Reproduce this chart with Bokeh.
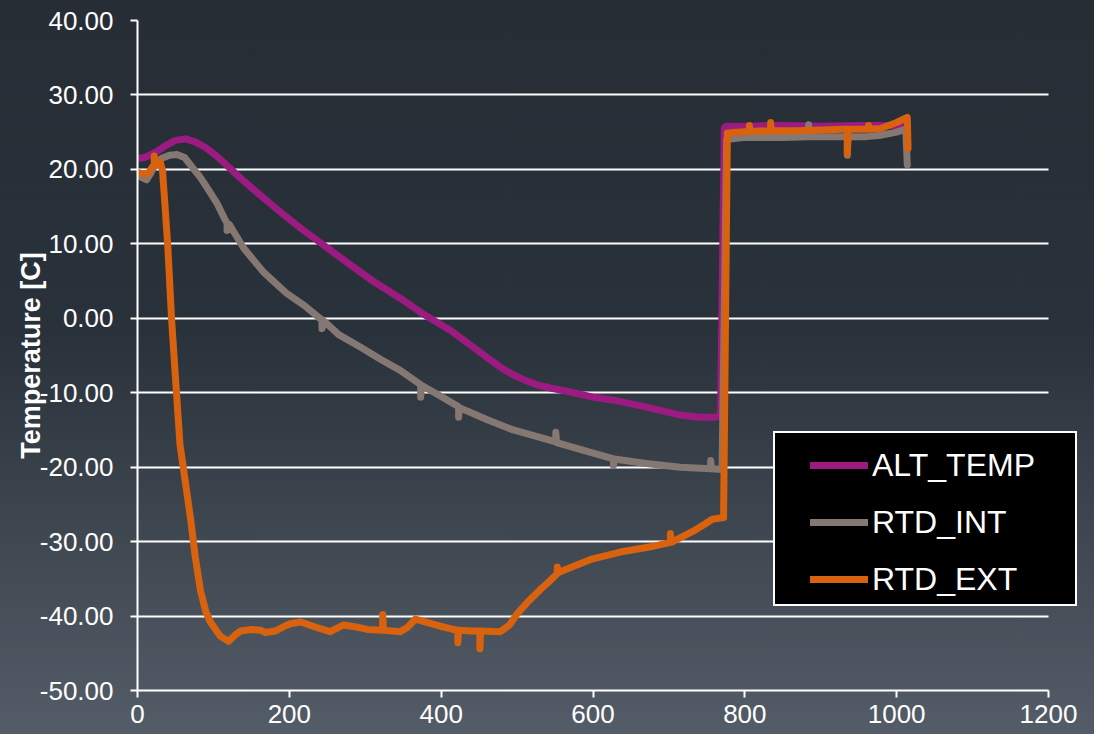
from bokeh.plotting import figure
from bokeh.models import (Range1d, FixedTicker, PrintfTickFormatter, Legend,
                          LegendItem)
from bokeh.embed import file_html
from bokeh.resources import INLINE

# ---------------- data ----------------
x_ticks = [0, 200, 400, 600, 800, 1000, 1200]
y_ticks = [-50, -40, -30, -20, -10, 0, 10, 20, 30, 40]
y_label = "Temperature [C]"
series_names = ["ALT_TEMP", "RTD_INT", "RTD_EXT"]
series_colors = ["#9B1B80", "#857771", "#D8620D"]

alt_x = [0, 10, 24, 37, 50, 63, 76, 90, 103, 116, 136, 162, 188, 215, 248,
         280, 313, 346, 379, 412, 445, 465, 480, 495, 510, 525, 545, 566,
         600, 627, 660, 690, 715, 740, 760, 768, 773, 776, 800, 850, 900,
         950, 1000, 1012]
alt_y = [21.5, 21.6, 22.3, 23.2, 23.9, 24.1, 23.7, 22.9, 21.9, 20.7, 18.8,
         16.5, 14.3, 12.1, 9.6, 7.2, 4.8, 2.7, 0.4, -1.6, -4.1, -5.6, -6.7,
         -7.6, -8.3, -8.9, -9.4, -9.8, -10.6, -11.0, -11.7, -12.4, -13.0,
         -13.3, -13.3, -13.1, 25.6, 25.8, 25.8, 25.9, 25.8, 25.9, 25.9, 26.0]

int_x = [0, 6, 12, 18, 24, 32, 42, 52, 62, 72, 83, 95, 105, 115, 118, 118,
         121, 140, 166, 197, 220, 240, 243, 243, 246, 265, 294, 320, 346,
         373, 373, 374, 400, 423, 423, 424, 460, 495, 530, 551, 551, 552,
         590, 627, 627, 628, 670, 715, 755, 755, 756, 770, 776, 800, 850,
         884, 884, 885, 935, 935, 936, 960, 980, 1000, 1012, 1014]
int_y = [19.2, 18.9, 18.6, 19.6, 20.8, 21.5, 21.9, 22.0, 21.6, 20.3, 18.9,
         17.0, 15.4, 13.3, 12.8, 11.8, 12.6, 9.4, 6.2, 3.3, 1.7, 0.0, -0.2,
         -1.4, -0.4, -2.2, -3.9, -5.5, -7.0, -8.9, -10.6, -9.0, -10.5,
         -11.9, -13.3, -12.0, -13.6, -15.0, -16.0, -16.6, -15.3, -16.7,
         -17.8, -18.9, -19.8, -18.9, -19.5, -20.0, -20.2, -19.1, -20.2,
         -20.3, 24.0, 24.3, 24.3, 24.4, 26.0, 24.4, 24.4, 21.9, 24.4, 24.4,
         24.6, 25.0, 25.4, 20.6]

ext_x = [0, 10, 15, 20, 22, 22, 24, 30, 33, 36, 40, 45, 50, 56, 63, 70, 76,
         83, 90, 96, 109, 120, 128, 136, 150, 162, 168, 182, 195, 202, 215,
         235, 254, 271, 290, 303, 323, 323, 324, 346, 356, 366, 380, 400,
         412, 422, 422, 423, 440, 451, 451, 452, 478, 490, 500, 515, 531,
         544, 553, 553, 554, 565, 577, 597, 636, 676, 702, 702, 703, 732,
         748, 757, 770, 772, 777, 790, 806, 806, 807, 830, 834, 834, 835,
         870, 900, 930, 935, 935, 936, 963, 963, 964, 979, 1000, 1014, 1015]
ext_y = [19.6, 19.3, 19.6, 20.4, 20.6, 21.8, 20.6, 21.0, 19.8, 15.5, 9.5,
         -0.3, -8.0, -17.0, -22.0, -27.0, -32.0, -36.6, -39.4, -40.8, -42.7,
         -43.4, -42.6, -42.0, -41.8, -41.9, -42.2, -42.0, -41.3, -41.0,
         -40.8, -41.5, -42.1, -41.2, -41.5, -41.8, -41.9, -39.8, -41.9,
         -42.1, -41.5, -40.4, -40.8, -41.4, -41.7, -41.9, -43.6, -41.9,
         -42.0, -42.0, -44.4, -42.0, -42.1, -41.2, -39.7, -38.0, -36.4,
         -35.2, -34.3, -33.4, -34.2, -33.7, -33.2, -32.4, -31.4, -30.7,
         -30.1, -28.9, -30.1, -28.6, -27.6, -27.0, -26.8, -26.8, 24.9, 25.0,
         25.1, 25.9, 25.1, 25.2, 25.2, 26.3, 25.2, 25.2, 25.3, 25.4, 25.4,
         22.1, 25.4, 25.4, 25.9, 25.4, 25.5, 26.3, 27.0, 22.8]

FONT = "Liberation Sans"

# layout (pixels)
W, H = 1094, 734
LEFT, AXIS_RIGHT, TOP, BOTTOM = 137, 1048, 20, 44
# the frame runs to the canvas edge so the legend panel is not clipped;
# the x axis and grid are bounded to the data axis extent
x_end = x_ticks[-1] * (W - LEFT) / (AXIS_RIGHT - LEFT)

p = figure(width=W, height=H, output_backend="svg", toolbar_location=None,
           x_range=Range1d(0, x_end), y_range=Range1d(y_ticks[0], y_ticks[-1]),
           min_border_left=LEFT, min_border_right=0, min_border_top=TOP,
           min_border_bottom=BOTTOM,
           background_fill_color=None, border_fill_color=None,
           outline_line_color=None,
           styles={"background": "linear-gradient(to bottom, #262d35 0%, #29313a 45%, #545d67 100%)"})

p.xaxis.ticker = FixedTicker(ticks=x_ticks)
p.xaxis.bounds = (x_ticks[0], x_ticks[-1])
p.yaxis.ticker = FixedTicker(ticks=y_ticks)
p.yaxis.formatter = PrintfTickFormatter(format="%.2f")
for ax in p.axis:
    ax.axis_line_color = "white"
    ax.axis_line_width = 2
    ax.major_tick_line_color = "white"
    ax.major_tick_line_width = 2
    ax.major_tick_out = 7
    ax.major_tick_in = 0
    ax.minor_tick_line_color = None
    ax.major_label_text_color = "white"
    ax.major_label_text_font = FONT
    ax.major_label_text_font_size = "26px"
p.yaxis.major_label_standoff = 17
p.xaxis.major_label_standoff = 7
p.yaxis.axis_label = y_label
p.yaxis.axis_label_text_font = FONT
p.yaxis.axis_label_text_font_style = "bold"
p.yaxis.axis_label_text_font_size = "27px"
p.yaxis.axis_label_text_color = "white"
p.yaxis.axis_label_standoff = -9

p.xgrid.visible = False
p.ygrid.grid_line_color = "white"
p.ygrid.grid_line_width = 2
p.ygrid.cross_bounds = (x_ticks[0], x_ticks[-1])

renderers = []
for xs, ys, c in [(alt_x, alt_y, series_colors[0]),
                  (int_x, int_y, series_colors[1]),
                  (ext_x, ext_y, series_colors[2])]:
    r = p.line(xs, ys, line_color=c, line_width=7, line_cap="round",
               line_join="round")
    renderers.append(r)

# black legend panel (an empty legend used as a box)
dummy = p.line([], [], line_alpha=0)
panel = Legend(items=[LegendItem(label=" ", renderers=[dummy])],
               location=(636, 84), padding=0, margin=0, spacing=0,
               glyph_width=1, glyph_height=171, label_height=171,
               label_width=299, label_standoff=0,
               label_text_font_size="10px",
               background_fill_color="black", background_fill_alpha=1.0,
               border_line_color="white", border_line_width=2,
               border_line_alpha=1.0)
p.add_layout(panel)

legend = Legend(items=[LegendItem(label=n, renderers=[r])
                       for n, r in zip(series_names, renderers)],
                location=(673, 91), orientation="vertical",
                padding=0, margin=0, spacing=17,
                glyph_width=58, glyph_height=40, label_height=40,
                label_standoff=4, label_text_font=FONT,
                label_text_font_size="32px", label_text_color="white",
                background_fill_alpha=0, border_line_alpha=0)
p.add_layout(legend)

open("out.html", "w").write(file_html(p, INLINE))
